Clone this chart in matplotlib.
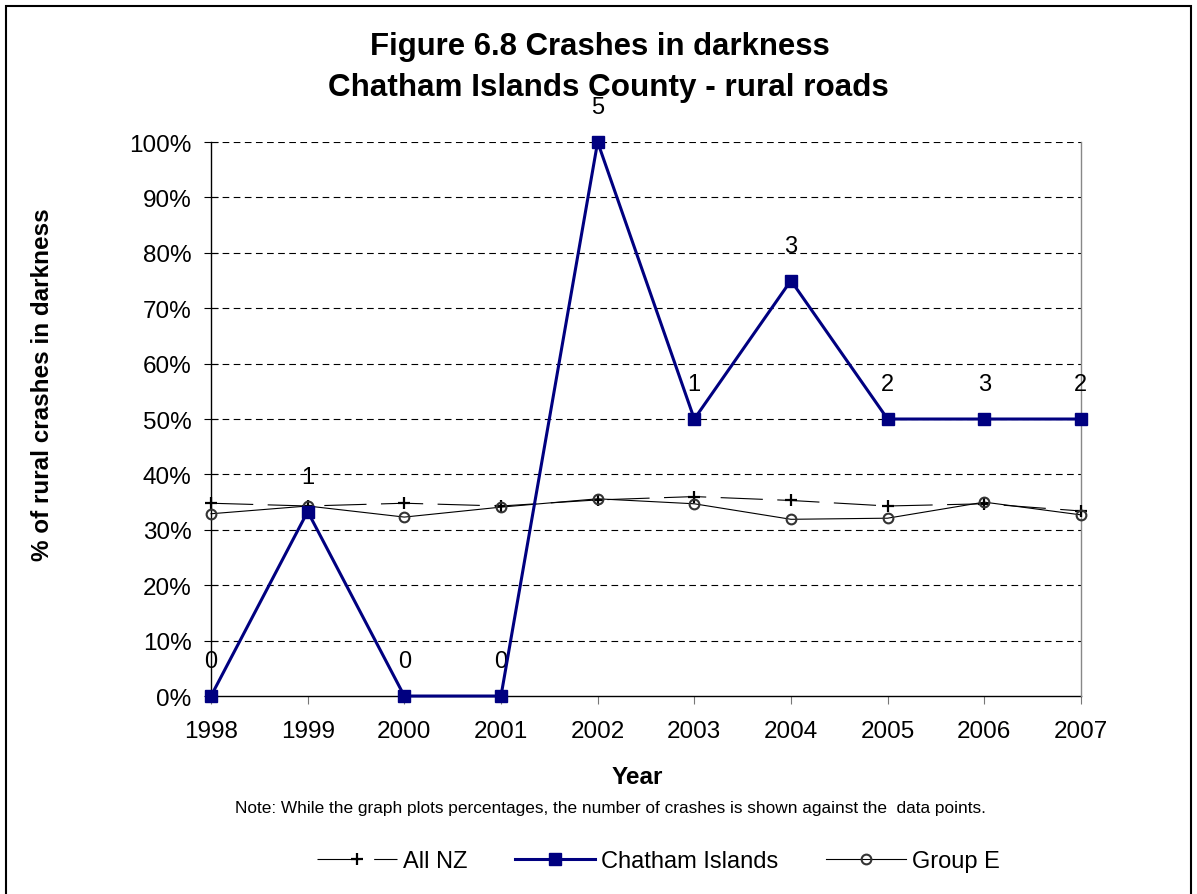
import numpy as np
import matplotlib
matplotlib.use("Agg")
import matplotlib.pyplot as plt
from matplotlib.patches import Rectangle
from matplotlib.ticker import FuncFormatter

plt.rcParams['font.family'] = ['Liberation Sans', 'DejaVu Sans']

# Data
years = [1998, 1999, 2000, 2001, 2002, 2003, 2004, 2005, 2006, 2007]
all_nz = [34.8, 34.3, 34.8, 34.3, 35.4, 36.0, 35.3, 34.3, 34.7, 33.4]
chatham = [0, 33.3, 0, 0, 100, 50, 75, 50, 50, 50]
group_e = [32.9, 34.3, 32.3, 34.1, 35.6, 34.7, 31.9, 32.1, 35.0, 32.7]
crash_counts = [0, 1, 0, 0, 5, 1, 3, 2, 3, 2]

fig = plt.figure(figsize=(11.97, 8.95), dpi=100)
ax = fig.add_axes([0.1763, 0.2212, 0.7267, 0.619])

# Gridlines
for v in range(10, 101, 10):
    ax.axhline(v, color='black', lw=0.8, dashes=(6, 4), zorder=1)

x = np.arange(len(years))
ax.plot(x, all_nz, color='black', lw=0.8, dashes=(38, 13), marker='+',
        markersize=8, markeredgewidth=1.6, label='All NZ', zorder=3, clip_on=False)
ax.plot(x, chatham, color='#000080', lw=2.2, marker='s', markersize=9,
        label='Chatham Islands', zorder=4, clip_on=False)
ax.plot(x, group_e, color='black', lw=0.8, marker='o', markersize=7,
        markerfacecolor='none', markeredgecolor='#333333', markeredgewidth=1.5,
        label='Group E', zorder=3, clip_on=False)

# Crash counts above data points
for xi, yi, n in zip(x, chatham, crash_counts):
    ax.annotate(str(n), (xi, yi), xytext=(0, 25), textcoords='offset points',
                ha='center', va='center', fontsize=17)

ax.set_xlim(0, len(years) - 1)
ax.set_ylim(0, 100)
ax.set_xticks(x)
ax.set_xticklabels([str(y) for y in years], fontsize=17.5)
ax.set_yticks(range(0, 101, 10))
ax.yaxis.set_major_formatter(FuncFormatter(lambda v, p: f"{int(v)}%"))
ax.tick_params(axis='y', direction='inout', length=10, labelsize=17.5, pad=9)
ax.tick_params(axis='x', direction='out', length=6, color='#777777', pad=11)

ax.spines['top'].set_visible(False)
ax.spines['right'].set_color('#888888')
ax.spines['left'].set_color('black')
ax.spines['bottom'].set_color('black')
for s in ax.spines.values():
    s.set_linewidth(1.0)
for s in ['left', 'bottom']:
    ax.spines[s].set_zorder(2)

ax.set_xlabel('Year', fontsize=17.5, fontweight='bold')
ax.xaxis.set_label_coords((637 - 211) / 870, (697 - 777) / 554)
ax.set_ylabel('% of rural crashes in darkness', fontsize=17.5, fontweight='bold')
ax.yaxis.set_label_coords((42 - 211) / 870, (697 - 385) / 554)
ax.xaxis.label.set_va('center')
ax.yaxis.label.set_va('center')

fig.text(0.501, 0.9475, 'Figure 6.8 Crashes in darkness', ha='center', va='center',
         fontsize=22.4, fontweight='bold')
fig.text(0.508, 0.9017, 'Chatham Islands County - rural roads', ha='center', va='center',
         fontsize=22.6, fontweight='bold')
fig.text(0.510, 0.097, 'Note: While the graph plots percentages, the number of crashes is shown against the  data points.',
         ha='center', va='center', fontsize=12.4)

fig.legend(loc='center', bbox_to_anchor=(0.55, 0.037), ncol=3, frameon=False,
           fontsize=17, handlelength=3.4, columnspacing=2.0, handletextpad=0.25)

fig.patches.append(Rectangle((0.005, -0.01), 0.99, 1.002, transform=fig.transFigure,
                             fill=False, edgecolor='black', lw=1.5))

fig.savefig('out.png', dpi=100)
